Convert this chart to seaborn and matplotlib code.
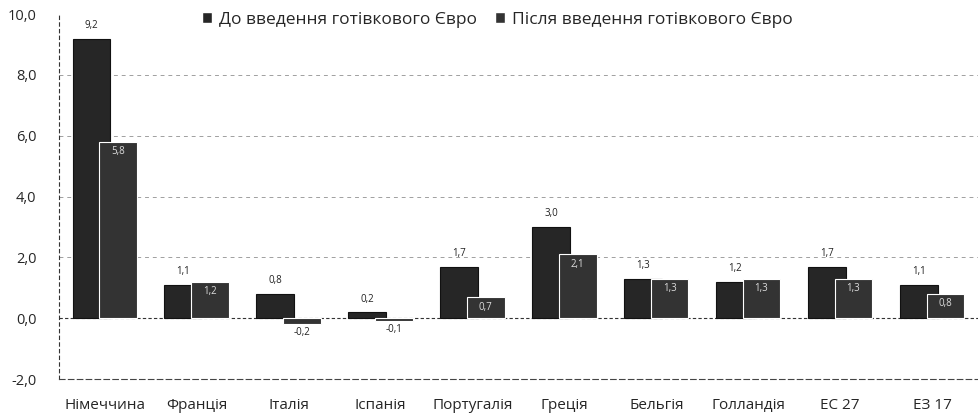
import numpy as np
import pandas as pd
import matplotlib
matplotlib.use("Agg")
import matplotlib.pyplot as plt
import seaborn as sns

countries = ["Німеччина", "Франція", "Італія", "Іспанія", "Португалія",
             "Греція", "Бельгія", "Голландія", "ЕС 27", "ЕЗ 17"]
before = [9.2, 1.1, 0.8, 0.2, 1.7, 3.0, 1.3, 1.2, 1.7, 1.1]
after = [5.8, 1.2, -0.2, -0.1, 0.7, 2.1, 1.3, 1.3, 1.3, 0.8]
series_names = ["До введення готівкового Євро", "Після введення готівкового Євро"]
yticks = [-2, 0, 2, 4, 6, 8, 10]
ytick_labels = ["-2,0", "0,0", "2,0", "4,0", "6,0", "8,0", "10,0"]

sns.set_theme(style="white")
plt.rcParams["font.family"] = ["Open Sans", "DejaVu Sans"]

df = pd.DataFrame({
    "country": countries * 2,
    "value": before + after,
    "period": [series_names[0]] * len(countries) + [series_names[1]] * len(countries),
})

fig = plt.figure(figsize=(9.79, 4.17), dpi=100)
ax = fig.add_axes([0.060, 0.091, 0.939, 0.875])

sns.barplot(data=df, x="country", y="value", hue="period", ax=ax,
            palette=["#262626", "#333333"], width=0.7, errorbar=None,
            saturation=1, legend=True)

# make bars overlap like the original (Excel-style overlap)
bw = 0.41
off = 0.145
n = len(countries)
for i, p in enumerate(ax.patches[:2 * n]):
    grp = i // n
    idx = i % n
    p.set_width(bw)
    p.set_x(idx + (-off if grp == 0 else off) - bw / 2)
    p.set_edgecolor("white" if grp == 1 else "#111111")
    p.set_linewidth(0.8)
    p.set_zorder(3 + grp)

ax.set_ylim(-2, 10)
ax.set_xlim(-0.5, n - 0.5)
ax.set_yticks(yticks)
ax.set_yticklabels(ytick_labels, fontsize=10.5)
ax.set_xlabel("")
ax.set_ylabel("")
ax.tick_params(axis="x", labelsize=11, length=0, pad=14)
ax.tick_params(axis="y", length=0, pad=16)

for y in [2, 4, 6, 8]:
    ax.axhline(y, color="#a0a0a0", lw=0.7, ls=(0, (4, 4)), zorder=1)
ax.axhline(0, color="#333333", lw=0.8, ls=(0, (3, 2)), zorder=2)

for s in ["top", "right"]:
    ax.spines[s].set_visible(False)
ax.spines["left"].set_linestyle((0, (3, 3)))
ax.spines["left"].set_color("#333333")
ax.spines["left"].set_linewidth(0.8)
ax.spines["bottom"].set_linestyle((0, (5, 3)))
ax.spines["bottom"].set_color("#444444")
ax.spines["bottom"].set_linewidth(0.8)

def fmt(v):
    return f"{v:.1f}".replace(".", ",")

for i, (b, a) in enumerate(zip(before, after)):
    ax.text(i - off, b + 0.25, fmt(b), ha="center", va="bottom", fontsize=7,
            color="#222222")
    if a < 0:
        ax.text(i + off, a - 0.1, fmt(a), ha="center", va="top", fontsize=7,
                color="#222222")
    else:
        ax.text(i + off, a - 0.15, fmt(a), ha="center", va="top", fontsize=7,
                color="#dddddd", zorder=6)

leg = ax.legend(loc="center", bbox_to_anchor=(0.477, 0.985), ncol=2,
                frameon=False, fontsize=12.5, handlelength=0.6, handleheight=0.6,
                columnspacing=1.0, handletextpad=0.4)

fig.savefig("out.png", dpi=100)
